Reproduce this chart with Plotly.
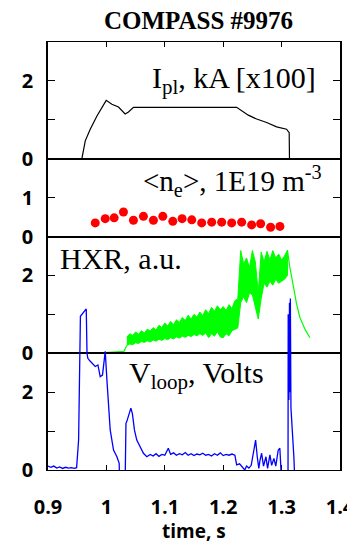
import plotly.graph_objects as go

# ---------------- data ----------------
# Plasma current, kA x100
ip_t = [0.9467, 0.9580, 0.9638, 0.9723, 0.9838, 0.9923, 0.9997, 1.0094, 1.0207, 1.0321,
        1.0378, 1.0464, 1.0800, 1.1200, 1.1600, 1.2000, 1.2230, 1.2430, 1.2573, 1.2744,
        1.2915, 1.3085, 1.3130, 1.3135, 1.3256]
ip_v = [0.00, 0.00, 0.46, 0.76, 1.10, 1.32, 1.50, 1.40, 1.33, 1.15,
        1.20, 1.32, 1.32, 1.33, 1.32, 1.32, 1.32, 1.12, 1.02, 0.93,
        0.82, 0.76, 0.67, 0.00, 0.00]

# Line-averaged density, 1E19 m^-3
ne_t = [0.9809, 0.9980, 1.0133, 1.0292, 1.0463, 1.0634, 1.0805, 1.0966, 1.1137, 1.1296,
        1.1462, 1.1632, 1.1803, 1.1974, 1.2145, 1.2316, 1.2487, 1.2641, 1.2812, 1.2971]
ne_v = [0.35, 0.46, 0.48, 0.63, 0.42, 0.52, 0.42, 0.52, 0.39, 0.46,
        0.43, 0.35, 0.37, 0.37, 0.35, 0.37, 0.30, 0.33, 0.24, 0.26]

# HXR, a.u. : quiet start, noisy band (low / high envelope), decay tail
hxr_start_t = [0.998, 1.010, 1.020, 1.030, 1.035]
hxr_start_v = [0.02, 0.03, 0.03, 0.05, 0.20]

hxr_t = [1.035, 1.040, 1.045, 1.050, 1.055, 1.060, 1.065, 1.070, 1.075, 1.080,
         1.085, 1.090, 1.095, 1.100, 1.105, 1.110, 1.115, 1.120, 1.125, 1.130,
         1.135, 1.140, 1.145, 1.150, 1.155, 1.160, 1.165, 1.170, 1.175, 1.180,
         1.185, 1.190, 1.195, 1.200, 1.205, 1.210, 1.215, 1.220, 1.225, 1.230,
         1.235, 1.240, 1.245, 1.250, 1.255, 1.260, 1.265, 1.270, 1.275, 1.280,
         1.285, 1.290, 1.295, 1.300, 1.305, 1.310]
hxr_hi = [0.42, 0.50, 0.46, 0.55, 0.49, 0.58, 0.52, 0.62, 0.57, 0.66,
          0.60, 0.72, 0.66, 0.78, 0.70, 0.82, 0.74, 0.86, 0.79, 0.92,
          0.84, 0.98, 0.88, 1.00, 0.93, 1.06, 0.97, 1.12, 1.02, 1.18,
          1.08, 1.22, 1.12, 1.20, 1.10, 1.25, 1.15, 1.35, 1.40, 2.64,
          2.30, 2.45, 2.20, 2.64, 2.35, 1.55, 2.60, 2.35, 2.62, 2.40,
          2.64, 2.45, 2.55, 2.40, 2.50, 2.65]
hxr_lo = [0.20, 0.24, 0.22, 0.27, 0.25, 0.30, 0.28, 0.32, 0.29, 0.34,
          0.31, 0.36, 0.33, 0.38, 0.35, 0.40, 0.37, 0.42, 0.39, 0.44,
          0.41, 0.46, 0.43, 0.48, 0.45, 0.50, 0.46, 0.52, 0.40, 0.50,
          0.44, 0.55, 0.42, 0.40, 0.50, 0.45, 0.58, 0.62, 0.65, 1.30,
          1.45, 1.30, 1.55, 1.50, 1.20, 0.88, 1.40, 1.80, 1.70, 1.85,
          1.75, 1.90, 1.80, 1.85, 1.90, 2.00]

hxr_tail_t = [1.310, 1.3142, 1.3200, 1.3256, 1.3313, 1.3400, 1.3484]
hxr_tail_v = [2.65, 2.20, 1.74, 1.27, 0.92, 0.62, 0.40]

# Loop voltage, Volts
vl_t = [0.900, 0.905, 0.910, 0.915, 0.920, 0.925, 0.930, 0.935, 0.940, 0.945,
        0.949, 0.9524, 0.9555, 0.9655, 0.9668, 0.9682, 0.9720, 0.9752, 0.9809, 0.9855,
        0.9894, 0.9933, 0.9980, 1.0009, 1.0036, 1.0065, 1.0122, 1.0180, 1.0219, 1.0225,
        1.0321, 1.0335, 1.0350, 1.0380, 1.0419, 1.0445, 1.0480, 1.0520, 1.0578, 1.0634,
        1.0692, 1.0750, 1.0800, 1.0850, 1.0900, 1.0950, 1.1000, 1.1060, 1.1100, 1.1150,
        1.1200, 1.1250, 1.1300, 1.1350, 1.1400, 1.1450, 1.1500, 1.1550, 1.1600, 1.1650,
        1.1700, 1.1750, 1.1800, 1.1850, 1.1900, 1.1950, 1.2000, 1.2050, 1.2100, 1.2150,
        1.2200, 1.2230, 1.2280, 1.2320, 1.2370, 1.2400, 1.2440, 1.2480, 1.2532, 1.2555,
        1.2583, 1.2610, 1.2630, 1.2658, 1.2690, 1.2732, 1.2760, 1.2800, 1.2830, 1.2868,
        1.2900, 1.2942, 1.2970, 1.3000, 1.3110, 1.3113, 1.3125, 1.3135, 1.3145, 1.3150,
        1.3160, 1.3171, 1.3180, 1.3210, 1.3227, 1.3300]
vl_v = [0.10, 0.07, 0.10, 0.05, 0.08, 0.04, 0.07, 0.05, 0.06, 0.04,
        0.06, 0.77, 3.95, 4.14, 3.00, 2.87, 2.80, 2.74, 2.66, 2.70,
        2.40, 2.44, 3.05, 2.31, 1.63, 1.03, 0.51, 0.34, 0.17, -0.30,
        -0.30, 1.20, 1.25, 1.40, 1.59, 1.45, 1.03, 0.77, 0.60, 0.43,
        0.34, 0.40, 0.36, 0.42, 0.35, 0.40, 0.38, 0.56, 0.40, 0.44,
        0.38, 0.42, 0.39, 0.45, 0.38, 0.42, 0.37, 0.41, 0.39, 0.43,
        0.38, 0.40, 0.36, 0.42, 0.38, 0.44, 0.37, 0.40, 0.38, 0.41,
        0.38, 0.13, 0.16, 0.08, 0.00, 0.10, 0.05, 0.12, 0.51, 0.77,
        0.34, 0.04, 0.25, 0.43, 0.10, 0.34, 0.04, 0.39, 0.12, 0.30,
        0.10, 0.51, 0.56, -0.30, -0.30, 4.00, 1.80, 4.30, 2.00, 4.41,
        1.60, 1.37, 1.03, 0.34, -0.30, -0.30]

x_ticks = [0.9, 1.0, 1.1, 1.2, 1.3, 1.4]
x_tick_text = ["0.9", "1", "1.1", "1.2", "1.3", "1.4"]

# ---------------- figure ----------------
fig = go.Figure()

fig.add_trace(go.Scatter(x=ip_t, y=ip_v, mode="lines", xaxis="x", yaxis="y",
                         line=dict(color="black", width=1.2), showlegend=False))
fig.add_trace(go.Scatter(x=ne_t, y=ne_v, mode="markers", xaxis="x2", yaxis="y2",
                         marker=dict(color="#ff0000", size=9), showlegend=False))
band_x = hxr_t + hxr_t[::-1]
band_y = hxr_hi + hxr_lo[::-1]
fig.add_trace(go.Scatter(x=band_x, y=band_y, mode="lines", fill="toself",
                         fillcolor="#00ff00", xaxis="x3", yaxis="y3",
                         line=dict(color="#00ff00", width=1), showlegend=False))
fig.add_trace(go.Scatter(x=hxr_start_t, y=hxr_start_v, mode="lines", xaxis="x3", yaxis="y3",
                         line=dict(color="#00ff00", width=1.2), showlegend=False))
fig.add_trace(go.Scatter(x=hxr_tail_t, y=hxr_tail_v, mode="lines", xaxis="x3", yaxis="y3",
                         line=dict(color="#00ff00", width=1.2), showlegend=False))
# an invisible trace so that panel 4 exists as its own subplot
fig.add_trace(go.Scatter(x=[0.9], y=[-1], mode="lines", xaxis="x4", yaxis="y4",
                         line=dict(color="rgba(0,0,0,0)"), showlegend=False, hoverinfo="skip"))
fig.add_trace(go.Scatter(x=vl_t, y=vl_v, mode="lines", xaxis="x5", yaxis="y5",
                         line=dict(color="#0000ff", width=1.3), showlegend=False))

tickfont = dict(family="Open Sans", size=20, color="black", weight="bold")
u = 1.0 / 11.0
d1 = [8 * u, 1.0]
d2 = [6 * u, 8 * u]
d3 = [3 * u, 6 * u]
d4 = [0.0, 3 * u]
xdom = [0.0, 292.0 / 307.0]   # plot frame ends 15 px before the figure's right edge


def xax(anchor, ticks, side="bottom"):
    return dict(range=[0.9, 1.4], domain=xdom, anchor=anchor, side=side,
                showgrid=False, zeroline=False, showline=True, linecolor="black",
                linewidth=1.3, mirror=True, tickmode="array", tickvals=x_ticks,
                ticktext=x_tick_text, ticks=ticks, ticklen=5, tickwidth=1,
                tickcolor="black", showticklabels=False)


def yax(anchor, domain, rng, vals, text):
    return dict(domain=domain, anchor=anchor, range=rng, showgrid=False, zeroline=False,
                showline=True, linecolor="black", linewidth=1.5, mirror="ticks",
                ticks="inside", ticklen=7, tickwidth=1, tickcolor="black",
                tickmode="array", tickvals=vals, ticktext=text, tickfont=tickfont,
                ticklabelstandoff=9)


# The page body has an 8 px margin on every side, so the figure is sized and
# placed to compensate (and to avoid a scrollbar in the 355x551 window).
fig.update_layout(
    xaxis=xax("y", "inside", side="top"),
    xaxis2=xax("y2", ""),
    xaxis3=xax("y3", ""),
    xaxis4=xax("y4", "inside"),
    xaxis5=dict(range=[0.9, 1.4], domain=xdom, anchor="y5", side="bottom",
                showgrid=False, zeroline=False, showline=False, tickmode="array",
                tickvals=x_ticks, ticktext=x_tick_text, ticks="outside", ticklen=19,
                tickcolor="rgba(0,0,0,0)", tickfont=tickfont, ticklabeloverflow="allow"),
    yaxis=yax("x", d1, [0, 3], [0, 1, 2], ["0", "", "2"]),
    yaxis2=yax("x2", d2, [0, 2], [0, 1], ["0", "1"]),
    yaxis3=yax("x3", d3, [0, 3], [0, 1, 2], ["0", "", "2"]),
    yaxis4=yax("x4", d4, [0, 3], [0, 1, 2], ["0", "", "2"]),
    yaxis5=dict(domain=[0.0, 6 * u], anchor="x5", range=[0, 6], visible=False),
    width=347, height=535,
    margin=dict(l=40, r=0, t=34, b=73, autoexpand=False),
    plot_bgcolor="rgba(0,0,0,0)", paper_bgcolor="white",
    title=dict(text="<b>COMPASS #9976</b>", x=0.549, xanchor="center", y=0.9776,
               yanchor="middle", font=dict(family="Liberation Serif", size=25, color="black")),
)

fig.add_annotation(text="I<sub>pl</sub>, kA [x100]", xref="paper", yref="paper",
                   x=0.8798, y=0.912, xanchor="right", yanchor="middle", showarrow=False,
                   font=dict(family="Liberation Serif", size=30, color="black"))
fig.add_annotation(text="&lt;n<sub>e</sub>&gt;, 1E19 m<sup>-3</sup>", xref="paper", yref="paper",
                   x=0.8988, y=0.675, xanchor="right", yanchor="middle", showarrow=False,
                   font=dict(family="Liberation Serif", size=29, color="black"))
fig.add_annotation(text="HXR, a.u.", xref="paper", yref="paper",
                   x=0.0333, y=0.495, xanchor="left", yanchor="middle", showarrow=False,
                   font=dict(family="Liberation Serif", size=30, color="black"))
fig.add_annotation(text="V<sub>loop</sub>, Volts", xref="paper", yref="paper",
                   x=0.2568, y=0.222, xanchor="left", yanchor="middle", showarrow=False,
                   font=dict(family="Liberation Serif", size=30, color="black"))
fig.add_annotation(text="<b>time, s</b>", xref="paper", yref="paper",
                   x=0.4756, y=-0.1425, xanchor="center", yanchor="middle", showarrow=False,
                   font=dict(family="Open Sans", size=19, color="black"))

fig.write_html("out.html")
